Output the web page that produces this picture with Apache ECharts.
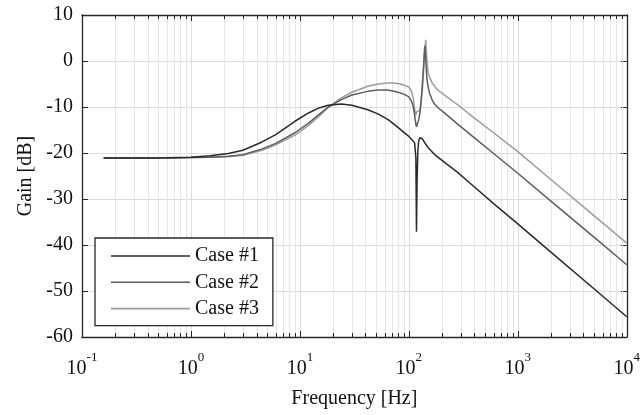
<!DOCTYPE html>
<html>
<head>
<meta charset="utf-8">
<script src="https://cdn.jsdelivr.net/npm/echarts@6/dist/echarts.min.js"></script>
<style>
html,body{margin:0;padding:0;background:#fff;}
#chart{width:643px;height:415px;}
</style>
</head>
<body>
<div id="chart"></div>
<script>
// Frequency grid (Hz)
const freq = [0.158, 0.25, 0.4, 0.6, 1, 1.5, 2.2, 3, 4.5, 6, 9, 12, 15, 18.2, 24, 30, 42, 52, 64, 71, 80, 90, 100, 106, 110, 113, 116, 117.5, 119, 121, 123, 126, 129, 133, 137, 140, 143, 146, 150, 155, 164, 170, 182, 220, 277, 400, 600, 1000, 2000, 5000, 10000];
// Gain (dB)
const case1 = [-21.1, -21.1, -21.1, -21.05, -20.9, -20.6, -20.1, -19.4, -17.6, -16.0, -13.1, -11.3, -10.2, -9.6, -9.35, -9.6, -10.6, -11.5, -12.7, -13.5, -14.5, -15.5, -16.4, -17.0, -17.4, -17.8, -21.0, -37.1, -26.0, -19.5, -17.4, -16.7, -16.5, -16.9, -17.4, -17.8, -18.1, -18.4, -18.8, -19.2, -19.8, -20.2, -20.8, -22.3, -24.1, -27.4, -31.0, -35.4, -41.5, -49.5, -55.6];
const case2 = [-21.1, -21.1, -21.1, -21.1, -21.0, -20.9, -20.7, -20.4, -19.1, -17.9, -15.6, -13.5, -11.6, -10.0, -8.4, -7.4, -6.6, -6.3, -6.3, -6.5, -6.8, -7.2, -7.8, -8.8, -10.0, -11.8, -13.8, -14.3, -14.0, -13.3, -12.8, -11.5, -9.5, -5.0, -0.5, 3.3, 0.5, -3.5, -5.5, -7.0, -8.5, -9.2, -10.0, -11.6, -13.6, -16.7, -20.1, -24.4, -30.4, -38.3, -44.3];
const case3 = [-21.1, -21.1, -21.1, -21.1, -21.0, -20.9, -20.8, -20.5, -19.4, -18.2, -16.1, -14.0, -12.0, -10.1, -8.0, -6.8, -5.5, -5.0, -4.8, -4.8, -4.9, -5.2, -5.7, -6.6, -8.3, -10.5, -11.7, -11.5, -10.9, -10.6, -10.6, -10.8, -10.5, -6.5, -1.5, 2.5, 4.6, 0.5, -2.5, -3.5, -4.8, -5.3, -6.2, -7.7, -9.4, -12.4, -15.6, -19.7, -25.7, -33.6, -39.6];
const seriesNames = ['Case #1', 'Case #2', 'Case #3'];
const xDecades = [-1, 0, 1, 2, 3, 4];

const FONT = '"Liberation Serif", "Times New Roman", serif';
const AX = '#262626';

function pairs(g) { return freq.map((f, i) => [f, g[i]]); }

// minor tick positions (2..9 times each decade)
const minorTicks = [];
for (let d = xDecades[0]; d < xDecades[xDecades.length - 1]; d++) {
  for (let k = 2; k <= 9; k++) minorTicks.push([k * Math.pow(10, d), -60]);
}

const chart = echarts.init(document.getElementById('chart'), null, {renderer: 'canvas'});

const xBase = {
  type: 'log', logBase: 10,
  min: Math.pow(10, xDecades[0]), max: Math.pow(10, xDecades[xDecades.length - 1]),
  axisLine: {show: true, onZero: false, lineStyle: {color: AX, width: 1.3}},
  axisTick: {show: true, inside: true, length: 6, lineStyle: {color: AX, width: 1}},
  splitLine: {show: false},
  minorTick: {show: false},
  minorSplitLine: {show: false}
};
const yBase = {
  type: 'value', min: -60, max: 10, interval: 10,
  axisLine: {show: true, onZero: false, lineStyle: {color: AX, width: 1.3}},
  axisTick: {show: true, inside: true, length: 6, lineStyle: {color: AX, width: 1}},
};

const option = {
  animation: false,
  backgroundColor: '#fff',
  grid: {left: 82, right: 12, top: 15, bottom: 78, containLabel: false},
  xAxis: [
    Object.assign({}, xBase, {
      position: 'bottom',
      name: 'Frequency [Hz]', nameLocation: 'middle', nameGap: 52,
      nameTextStyle: {fontFamily: FONT, fontSize: 20, color: '#111'},
      splitLine: {show: true, lineStyle: {color: '#dcdcdc', width: 1}},
      axisLabel: {
        margin: 14,
        formatter: function (v) {
          const e = Math.round(Math.log10(v));
          return '{b|10}{s|' + e + '}';
        },
        rich: {
          b: {fontFamily: FONT, fontSize: 20, color: '#111', verticalAlign: 'bottom', lineHeight: 28},
          s: {fontFamily: FONT, fontSize: 13, color: '#111', verticalAlign: 'top', lineHeight: 28}
        }
      }
    }),
    Object.assign({}, xBase, {position: 'top', axisLabel: {show: false}})
  ],
  yAxis: [
    Object.assign({}, yBase, {
      position: 'left',
      name: 'Gain [dB]', nameLocation: 'middle', nameGap: 44, nameRotate: 90,
      nameTextStyle: {fontFamily: FONT, fontSize: 20, color: '#111'},
      splitLine: {show: true, lineStyle: {color: '#dcdcdc', width: 1}},
      axisLabel: {margin: 9, fontFamily: FONT, fontSize: 20, color: '#111'}
    }),
    Object.assign({}, yBase, {position: 'right', axisLabel: {show: false}, splitLine: {show: false}})
  ],
  legend: {
    data: seriesNames,
    orient: 'vertical',
    left: 95, top: 238,
    padding: [7, 14, 6, 16],
    itemGap: 4.3,
    itemWidth: 79, itemHeight: 1.6,
    icon: 'rect',
    backgroundColor: '#fff',
    borderColor: AX, borderWidth: 1.3, borderRadius: 0,
    textStyle: {fontFamily: FONT, fontSize: 20, color: '#111', lineHeight: 22},
    selectedMode: false
  },
  series: [
    {
      type: 'custom', name: 'minor', silent: true, z: 1,
      xAxisIndex: 0, yAxisIndex: 0,
      data: minorTicks,
      renderItem: function (params, api) {
        const pb = api.coord([api.value(0), -60]);
        const pt = api.coord([api.value(0), 10]);
        const x = Math.round(pb[0]) + 0.5;
        return {
          type: 'group',
          children: [
            {type: 'line', shape: {x1: x, y1: pt[1], x2: x, y2: pb[1]}, style: {stroke: '#e6e6e6', lineWidth: 1}},
            {type: 'line', shape: {x1: x, y1: pb[1], x2: x, y2: pb[1] - 4}, style: {stroke: AX, lineWidth: 1}},
            {type: 'line', shape: {x1: x, y1: pt[1], x2: x, y2: pt[1] + 4}, style: {stroke: AX, lineWidth: 1}}
          ]
        };
      }
    },
    {type: 'line', name: seriesNames[2], data: pairs(case3), showSymbol: false, symbol: 'none', z: 3,
      color: '#9c9c9c', lineStyle: {color: '#9c9c9c', width: 1.5}},
    {type: 'line', name: seriesNames[1], data: pairs(case2), showSymbol: false, symbol: 'none', z: 4,
      color: '#5e5e5e', lineStyle: {color: '#5e5e5e', width: 1.5}},
    {type: 'line', name: seriesNames[0], data: pairs(case1), showSymbol: false, symbol: 'none', z: 5,
      color: '#2a2a2a', lineStyle: {color: '#2a2a2a', width: 1.5}}
  ]
};
chart.setOption(option);
</script>
</body>
</html>
